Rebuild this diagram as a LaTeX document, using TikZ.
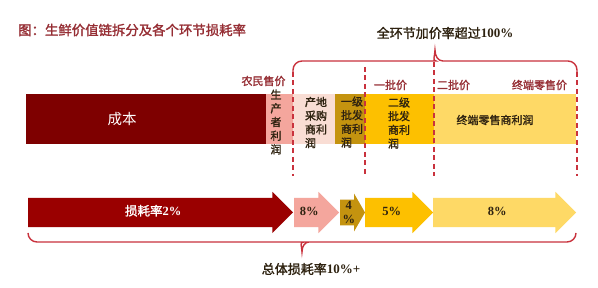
\documentclass[tikz,border=0pt]{standalone}
\usepackage{fontspec}
\usepackage{tikz}
\usetikzlibrary{positioning,shapes.arrows}
\newfontfamily\cjk{Noto Sans CJK SC}[AutoFakeBold=1.6]
\newfontfamily\latf{Liberation Serif}
\definecolor{granate}{HTML}{7E0000}
\definecolor{granate2}{HTML}{9A0000}
\definecolor{rosa}{HTML}{F4A69D}
\definecolor{rosaclaro}{HTML}{F9DDD4}
\definecolor{oro}{HTML}{C4930F}
\definecolor{ambar}{HTML}{FDC000}
\definecolor{amarillo}{HTML}{FED966}
\definecolor{rojoguia}{HTML}{C9323D}
\definecolor{rotulo}{HTML}{962E34}
\definecolor{tinta}{HTML}{2E2210}
\tikzset{
  tramo/.style={rectangle,inner sep=0pt,outer sep=0pt,minimum height=50pt,anchor=north west},
  flecha/.style={single arrow,single arrow head extend=6pt,inner xsep=0pt,inner ysep=8.5pt,text height=9pt,text depth=3pt,outer sep=0pt,anchor=tail,align=center,text=tinta,font=\cjk\bfseries\fontsize{12.5}{14}\selectfont},
  guia/.style={draw=rojoguia,line width=1.5pt,dash pattern=on 5pt off 3.5pt},
  llave/.style={draw=rojoguia,line width=1.4pt},
  precio/.style={inner sep=0pt,text=rotulo,font=\cjk\bfseries\fontsize{11}{12}\selectfont},
  vertical/.style={inner sep=0pt,align=left,text=tinta,font=\cjk\bfseries\fontsize{11}{13.7}\selectfont},
  titulo/.style={inner sep=0pt,text=rotulo,font=\cjk\bfseries\fontsize{13.4}{14}\selectfont},
  leyenda/.style={inner sep=0pt,text=tinta,font=\cjk\bfseries\fontsize{13}{14}\selectfont},
}
\begin{document}
\begin{tikzpicture}[x=1pt,y=-1pt]
\fill[white] (0,0) rectangle (598,288);
\useasboundingbox (0,0) rectangle (598,288);
\node[titulo,anchor=west] (titulo) at (18,30) {图：生鲜价值链拆分及各个环节损耗率};
\node[tramo,fill=granate,minimum width=240pt] (coste) at (26,94) {};
\node[tramo,fill=rosa,minimum width=27pt,right=0pt of coste] (prod) {};
\node[tramo,fill=rosaclaro,minimum width=42pt,right=0pt of prod] (orig) {};
\node[tramo,fill=oro,minimum width=30pt,right=0pt of orig] (may1) {};
\node[tramo,fill=ambar,minimum width=69pt,right=0pt of may1] (may2) {};
\node[tramo,fill=amarillo,minimum width=142pt,right=0pt of may2] (minor) {};
\node[inner sep=0pt,text=white,font=\cjk\fontsize{14.5}{15}\selectfont] (tcoste) at (122,119) {成本};
\node[vertical,align=center] (tprod) at (276,122) {生\\产\\者\\利\\润};
\node[vertical] (torig) at (316,122.5) {产地\\采购\\商利\\润};
\node[vertical] (tmay1) at (352,122) {一级\\批发\\商利\\润};
\node[vertical] (tmay2) at (399,123) {二级\\批发\\商利\\润};
\node[vertical] (tminor) at (495,120) {终端零售商利润};
\node[precio] (p1) at (263.5,81) {农民售价};
\node[precio] (p2) at (390.5,85) {一批价};
\node[precio] (p3) at (453.5,85) {二批价};
\node[precio] (p4) at (539.5,85) {终端零售价};
\coordinate (g1a) at (293,72);
\coordinate (g1b) at (293,176);
\coordinate (g2a) at (365,67);
\coordinate (g2b) at (365,176);
\coordinate (g3a) at (434,62);
\coordinate (g3b) at (434,176);
\coordinate (g4a) at (577,72);
\coordinate (g4b) at (577,176);
\draw[guia] (g1a) -- (g1b);
\draw[guia] (g2a) -- (g2b);
\draw[guia] (g3a) -- (g3b);
\draw[guia] (g4a) -- (g4b);
\coordinate (llpico) at (435,50);
\draw[llave] (g1a) [rounded corners=9pt] |- (427,61) [sharp corners] .. controls (432,61) and (435,56) .. (llpico) .. controls (435,56) and (438,61) .. (443,61) [rounded corners=9pt] -| (g4a);
\node[leyenda] (total) at (445,33) {全环节加价率超过{\latf 100\%}};
\node[flecha,fill=granate2,minimum height=265pt,text=white] (perd1) at (28,212.5) {损耗率{\latf 2\%}};
\node[flecha,fill=rosa,minimum height=45pt,right=1pt of perd1] (perd2) {\latf 8\%};
\node[flecha,fill=oro,minimum height=25pt,single arrow tip angle=120,text height=,text depth=,inner ysep=1.5pt,right=1pt of perd2] (perd3) {\latf 4\\\latf\%};
\node[flecha,fill=ambar,minimum height=68pt,right=0pt of perd3] (perd4) {\latf 5\%};
\node[flecha,fill=amarillo,minimum height=143pt,right=0pt of perd4] (perd5) {\latf 8\%};
\coordinate (lb1) at (28,233);
\coordinate (lb2) at (576,233);
\coordinate (lbpico) at (302,252);
\draw[llave] (lb1) [rounded corners=9pt] |- (295,242) [sharp corners] .. controls (299,242) and (302,246) .. (lbpico) .. controls (302,246) and (305,242) .. (309,242) [rounded corners=9pt] -| (lb2);
\node[leyenda] (perdida) at (311,269) {总体损耗率{\latf 10\%+}};
\end{tikzpicture}
\end{document}
